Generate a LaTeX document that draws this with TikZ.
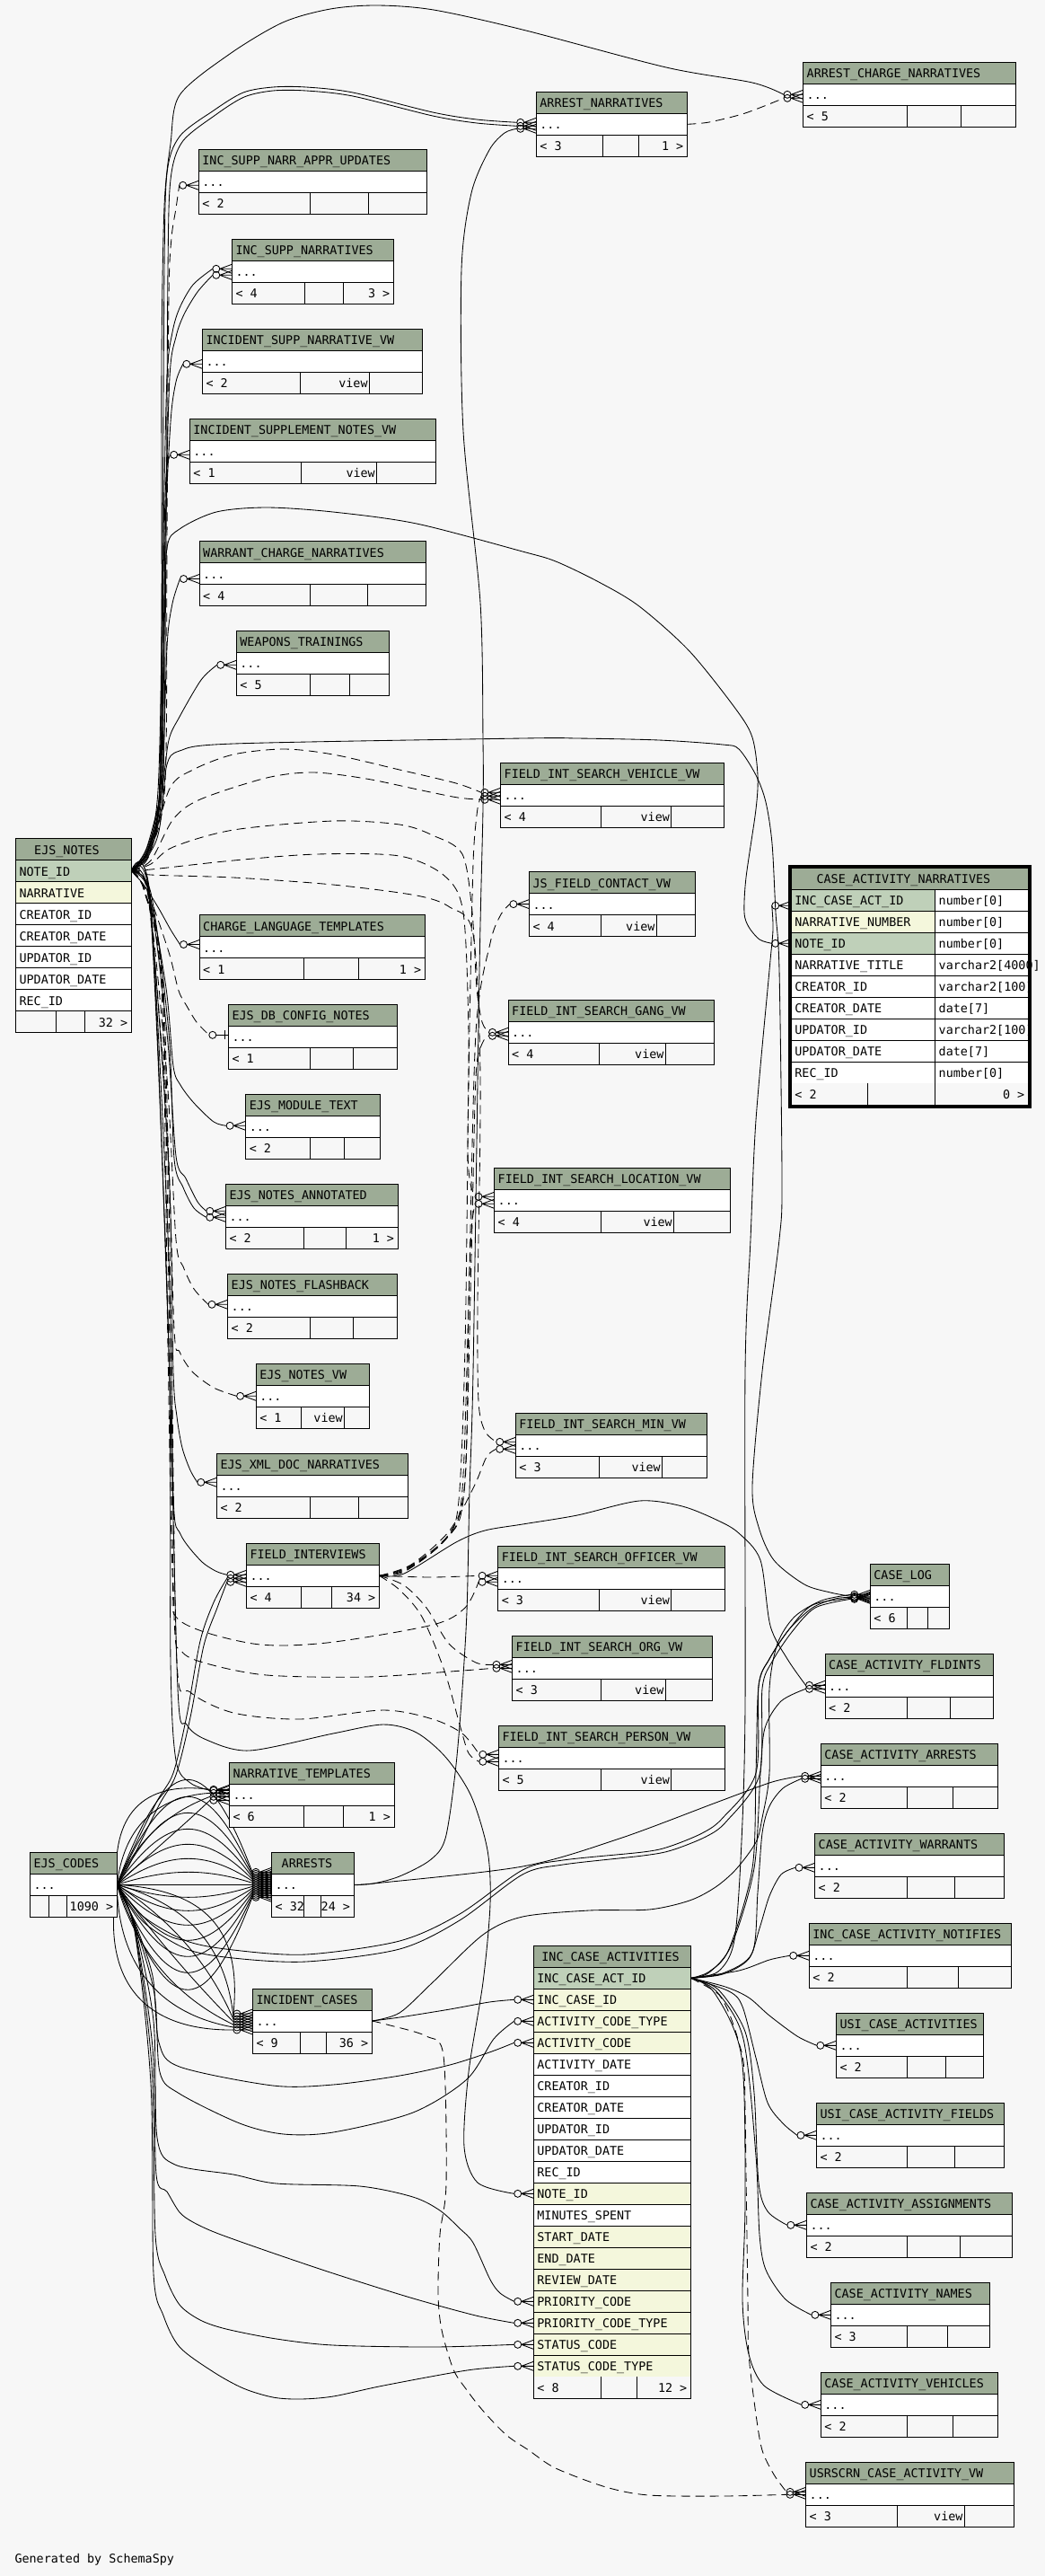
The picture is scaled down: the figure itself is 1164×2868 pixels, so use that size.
\documentclass[tikz,border=0pt]{standalone}
\usepackage{fontspec}
\newfontfamily\monof{DejaVu Sans Mono}
\usetikzlibrary{calc}
\definecolor{bgc}{RGB}{247,247,247}
\definecolor{hdr}{RGB}{157,172,150}
\definecolor{pkc}{RGB}{191,208,185}
\definecolor{fkc}{RGB}{244,247,220}
\pgfdeclarelayer{bgl}
\pgfdeclarelayer{edges}
\pgfsetlayers{bgl,edges,main}
\tikzset{
  bd/.style={draw=black,line width=1pt},
  txt/.style={inner sep=0pt,anchor=base west,font=\monof\fontsize{13.4pt}{15pt}\selectfont},
  txtr/.style={txt,anchor=base east},
  rel/.style={draw=black,line width=0.85pt},
  impl/.style={rel,dash pattern=on 10pt off 6pt},
  rowbox/.style={draw=black,line width=1pt,fill=white,inner sep=0pt,outer sep=0pt,anchor=north west,minimum height=24pt},
}
\newcommand\tbl[5]{%
  \fill[hdr] (#2,#4) rectangle (#3,{#4+24});
  \fill[bgc] (#2,{#4+48}) rectangle (#3,{#4+72});
  \node[rowbox,minimum width={(#3-#2)*1pt}] (#1) at (#2,{#4+24}) {};
  \draw[bd] (#2,#4) rectangle (#3,{#4+72});
  \node[txt] (#1-t) at ({#2+4},{#4+17.5}) {#5};
  \node[txt] at ({#2+4},{#4+41.5}) {...};
  \def\tx{#2}\def\txb{#3}\def\ty{#4}}
\newcommand\ftr[5]{%
  \draw[bd] (#1,{\ty+48}) -- (#1,{\ty+72}) (#2,{\ty+48}) -- (#2,{\ty+72});
  \node[txt] at ({\tx+4},{\ty+65.5}) {#3};
  \node[txtr] at ({#2-1.5},{\ty+65.5}) {#4};
  \node[txtr] at ({\txb-4},{\ty+65.5}) {#5};}
\newcommand\brow[6]{%
  \node[rowbox,fill=#5,minimum width={(#3-#2)*1pt}] (#1) at (#2,#4) {};
  \node[txt] at ({#2+4},{#4+17.5}) {#6};}
\newcommand\crow[2]{%
  \draw[rel] ($(#1.west)+(-17.5,#2)$) circle[radius=4pt];
  \draw[rel] ($(#1.west)+(-13.5,#2)$) -- ($(#1.west)+(0,{#2-5})$)
             ($(#1.west)+(-13.5,#2)$) -- ($(#1.west)+(0,#2)$)
             ($(#1.west)+(-13.5,#2)$) -- ($(#1.west)+(0,{#2+5})$);}
\newcommand\crowone[2]{%
  \draw[rel] ($(#1.west)+(-17.5,#2)$) circle[radius=4pt];
  \draw[rel] ($(#1.west)+(-13.5,#2)$) -- ($(#1.west)+(0,#2)$)
             ($(#1.west)+(-4,{#2-5})$) -- ($(#1.west)+(-4,{#2+5})$);}
\newcommand\edge[5][rel]{%
  \coordinate (ee) at ($(#3.west)+(-21.5,#4)$);
  \draw[#1] plot[smooth,tension=0.5] coordinates {(#2) #5 (ee)};
  \crow{#3}{#4}}
\newcommand\edgeone[5][rel]{%
  \coordinate (ee) at ($(#3.west)+(-21.5,#4)$);
  \draw[#1] plot[smooth,tension=0.5] coordinates {(#2) #5 (ee)};
  \crowone{#3}{#4}}
\begin{document}
\catcode`\_=12
\begin{tikzpicture}[x=1pt,y=-1pt]
\useasboundingbox (0,0) rectangle (1164,2868);
\begin{pgfonlayer}{bgl}
\fill[bgc] (0,0) rectangle (1164,2868);
\end{pgfonlayer}

% ---------- small tables ----------
\tbl{AN}{597.2}{765.4}{102.3}{ARREST_NARRATIVES}\ftr{671}{711.5}{< 3}{}{1 >}
\tbl{ACN}{894.5}{1131.7}{69.3}{ARREST_CHARGE_NARRATIVES}\ftr{1010.4}{1070.5}{< 5}{}{}
\tbl{ISNAU}{221.2}{475.5}{166.3}{INC_SUPP_NARR_APPR_UPDATES}\ftr{345.2}{410.5}{< 2}{}{}
\tbl{ISN}{258.3}{438.4}{266.3}{INC_SUPP_NARRATIVES}\ftr{339.3}{382.3}{< 4}{}{3 >}
\tbl{ISNV}{225.3}{470.3}{366.3}{INCIDENT_SUPP_NARRATIVE_VW}\ftr{334.4}{411.3}{< 2}{view}{}
\tbl{ISTV}{211.2}{485.5}{466.3}{INCIDENT_SUPPLEMENT_NOTES_VW}\ftr{335.2}{419.5}{< 1}{view}{}
\tbl{WCN}{222}{474.4}{602.5}{WARRANT_CHARGE_NARRATIVES}\ftr{345.2}{409.4}{< 4}{}{}
\tbl{WT}{263.2}{433.2}{702.3}{WEAPONS_TRAININGS}\ftr{345.2}{389.4}{< 5}{}{}
\tbl{FV}{557.5}{806.2}{849.3}{FIELD_INT_SEARCH_VEHICLE_VW}\ftr{669.2}{747.6}{< 4}{view}{}
\tbl{JF}{589.4}{774.3}{970.6}{JS_FIELD_CONTACT_VW}\ftr{669.2}{731.2}{< 4}{view}{}
\tbl{CLT}{222}{473.3}{1018.5}{CHARGE_LANGUAGE_TEMPLATES}\ftr{338.2}{399.4}{< 1}{}{1 >}
\tbl{FG}{566}{795.8}{1113.3}{FIELD_INT_SEARCH_GANG_VW}\ftr{667.7}{741.2}{< 4}{view}{}
\tbl{EDB}{254.3}{442.5}{1118.3}{EJS_DB_CONFIG_NOTES}\ftr{345.2}{393.1}{< 1}{}{}
\tbl{EMT}{273.6}{423.2}{1218.3}{EJS_MODULE_TEXT}\ftr{345.2}{383.4}{< 2}{}{}
\tbl{FL}{550.5}{813.3}{1300.3}{FIELD_INT_SEARCH_LOCATION_VW}\ftr{669.6}{750.5}{< 4}{view}{}
\tbl{ENA}{251.3}{443.2}{1318.3}{EJS_NOTES_ANNOTATED}\ftr{338.5}{385.7}{< 2}{}{1 >}
\tbl{ENF}{253.5}{442.5}{1418.3}{EJS_NOTES_FLASHBACK}\ftr{345.2}{393.1}{< 2}{}{}
\tbl{ENV}{285.1}{411.3}{1518.3}{EJS_NOTES_VW}\ftr{335.2}{383.4}{< 1}{view}{}
\tbl{FM}{574.2}{787.3}{1573.3}{FIELD_INT_SEARCH_MIN_VW}\ftr{667.4}{737.5}{< 3}{view}{}
\tbl{EXD}{241.3}{454.3}{1618.3}{EJS_XML_DOC_NARRATIVES}\ftr{345.2}{399.4}{< 2}{}{}
\tbl{FI}{274.3}{422.4}{1718.3}{FIELD_INTERVIEWS}\ftr{335.2}{369.3}{< 4}{}{34 >}
\tbl{FO}{554.6}{807.3}{1721.3}{FIELD_INT_SEARCH_OFFICER_VW}\ftr{667.4}{747.6}{< 3}{view}{}
\tbl{CL}{969.2}{1057.1}{1741.3}{CASE_LOG}\ftr{1010.4}{1033.4}{< 6}{}{}
\tbl{FOR}{570.5}{793.2}{1821.3}{FIELD_INT_SEARCH_ORG_VW}\ftr{669.2}{741.2}{< 3}{view}{}
\tbl{CAF}{919}{1106.1}{1841.3}{CASE_ACTIVITY_FLDINTS}\ftr{1010.4}{1058.2}{< 2}{}{}
\tbl{FP}{555.3}{807.3}{1921.3}{FIELD_INT_SEARCH_PERSON_VW}\ftr{669.2}{747.6}{< 5}{view}{}
\tbl{CAA}{914.2}{1111.3}{1941.3}{CASE_ACTIVITY_ARRESTS}\ftr{1010.4}{1061.6}{< 2}{}{}
\tbl{NT}{255.4}{439.1}{1962.3}{NARRATIVE_TEMPLATES}\ftr{338.2}{382.3}{< 6}{}{1 >}
\tbl{CAW}{907.5}{1118.4}{2041.3}{CASE_ACTIVITY_WARRANTS}\ftr{1010.4}{1063.4}{< 2}{}{}
\tbl{EC}{33.4}{130.3}{2062.3}{EJS_CODES}\ftr{54.6}{74.2}{}{}{1090 >}
\tbl{AR}{302.5}{394.2}{2062.3}{\kern7pt ARRESTS}\ftr{338.9}{357.5}{< 32}{}{24 >}
\tbl{ICAN}{901.2}{1126.2}{2141.3}{INC_CASE_ACTIVITY_NOTIFIES}\ftr{1010.4}{1067.1}{< 2}{}{}
\tbl{IC}{281.4}{414.3}{2214}{INCIDENT_CASES}\ftr{334.4}{363.4}{< 9}{}{36 >}
\tbl{USA}{931.3}{1095.4}{2241.3}{USI_CASE_ACTIVITIES}\ftr{1010.4}{1053.4}{< 2}{}{}
\tbl{USF}{909.4}{1118.4}{2341.3}{USI_CASE_ACTIVITY_FIELDS}\ftr{1010.4}{1063.4}{< 2}{}{}
\tbl{CAS}{898.3}{1127.3}{2441.3}{CASE_ACTIVITY_ASSIGNMENTS}\ftr{1010.4}{1069.4}{< 2}{}{}
\tbl{CANM}{925.4}{1102.4}{2541.3}{CASE_ACTIVITY_NAMES}\ftr{1010.4}{1055.3}{< 3}{}{}
\tbl{CAV}{914.2}{1111.3}{2641.3}{CASE_ACTIVITY_VEHICLES}\ftr{1010.4}{1061.6}{< 2}{}{}
\tbl{USR}{897.5}{1129.5}{2741.3}{USRSCRN_CASE_ACTIVITY_VW}\ftr{999.2}{1074.2}{< 3}{view}{}

% ---------- EJS_NOTES ----------
\fill[hdr] (17.4,933.5) rectangle (146.3,957.5);
\node[txt] (EN-t) at (38,951) {EJS_NOTES};
\brow{EN-pk}{17.4}{146.3}{957.5}{pkc}{NOTE_ID}
\brow{EN2}{17.4}{146.3}{981.5}{fkc}{NARRATIVE}
\brow{EN3}{17.4}{146.3}{1005.5}{white}{CREATOR_ID}
\brow{EN4}{17.4}{146.3}{1029.5}{white}{CREATOR_DATE}
\brow{EN5}{17.4}{146.3}{1053.5}{white}{UPDATOR_ID}
\brow{EN6}{17.4}{146.3}{1077.5}{white}{UPDATOR_DATE}
\brow{EN7}{17.4}{146.3}{1101.5}{white}{REC_ID}
\fill[bgc] (17.4,1125.5) rectangle (146.3,1149.5);
\draw[bd] (17.4,933.5) rectangle (146.3,1149.5);
\draw[bd] (62.4,1125.5) -- (62.4,1149.5) (94.7,1125.5) -- (94.7,1149.5);
\node[txtr] at (142.3,1143) {32 >};

% ---------- CASE_ACTIVITY_NARRATIVES ----------
\fill[hdr] (881.2,966.3) rectangle (1145.5,990.3);
\node[txt] (CAN-t) at (909.4,983.8) {CASE_ACTIVITY_NARRATIVES};
\brow{CAN1}{881.2}{1041.5}{990.3}{pkc}{INC_CASE_ACT_ID}\brow{CANt1}{1041.5}{1145.5}{990.3}{white}{number[0]}
\brow{CAN2}{881.2}{1041.5}{1014.3}{fkc}{NARRATIVE_NUMBER}\brow{CANt2}{1041.5}{1145.5}{1014.3}{white}{number[0]}
\brow{CAN3}{881.2}{1041.5}{1038.3}{pkc}{NOTE_ID}\brow{CANt3}{1041.5}{1145.5}{1038.3}{white}{number[0]}
\brow{CAN4}{881.2}{1041.5}{1062.3}{white}{NARRATIVE_TITLE}\brow{CANt4}{1041.5}{1145.5}{1062.3}{white}{varchar2[4000]}
\brow{CAN5}{881.2}{1041.5}{1086.3}{white}{CREATOR_ID}\brow{CANt5}{1041.5}{1145.5}{1086.3}{white}{varchar2[100]}
\brow{CAN6}{881.2}{1041.5}{1110.3}{white}{CREATOR_DATE}\brow{CANt6}{1041.5}{1145.5}{1110.3}{white}{date[7]}
\brow{CAN7}{881.2}{1041.5}{1134.3}{white}{UPDATOR_ID}\brow{CANt7}{1041.5}{1145.5}{1134.3}{white}{varchar2[100]}
\brow{CAN8}{881.2}{1041.5}{1158.3}{white}{UPDATOR_DATE}\brow{CANt8}{1041.5}{1145.5}{1158.3}{white}{date[7]}
\brow{CAN9}{881.2}{1041.5}{1182.3}{white}{REC_ID}\brow{CANt9}{1041.5}{1145.5}{1182.3}{white}{number[0]}
\fill[bgc] (881.2,1206.3) rectangle (1145.5,1230.3);
\draw[bd] (881.2,966.3) rectangle (1145.5,1230.3);
\draw[bd] (966.6,1206.3) -- (966.6,1230.3) (1041.5,1206.3) -- (1041.5,1230.3);
\node[txt] at (885.2,1223.8) {< 2};
\node[txtr] at (1141.5,1223.8) {0 >};
\draw[line width=3.2pt] (879.6,964.7) rectangle (1147.1,1231.9);

% ---------- INC_CASE_ACTIVITIES ----------
\fill[hdr] (594.2,2166.3) rectangle (769.5,2190.3);
\node[txt] (ICA-t) at (603.2,2183.8) {INC_CASE_ACTIVITIES};
\brow{ICA1}{594.2}{769.5}{2190.3}{pkc}{INC_CASE_ACT_ID}
\brow{ICA2}{594.2}{769.5}{2214.3}{fkc}{INC_CASE_ID}
\brow{ICA3}{594.2}{769.5}{2238.3}{fkc}{ACTIVITY_CODE_TYPE}
\brow{ICA4}{594.2}{769.5}{2262.3}{fkc}{ACTIVITY_CODE}
\brow{ICA5}{594.2}{769.5}{2286.3}{white}{ACTIVITY_DATE}
\brow{ICA6}{594.2}{769.5}{2310.3}{white}{CREATOR_ID}
\brow{ICA7}{594.2}{769.5}{2334.3}{white}{CREATOR_DATE}
\brow{ICA8}{594.2}{769.5}{2358.3}{white}{UPDATOR_ID}
\brow{ICA9}{594.2}{769.5}{2382.3}{white}{UPDATOR_DATE}
\brow{ICA10}{594.2}{769.5}{2406.3}{white}{REC_ID}
\brow{ICA11}{594.2}{769.5}{2430.3}{fkc}{NOTE_ID}
\brow{ICA12}{594.2}{769.5}{2454.3}{white}{MINUTES_SPENT}
\brow{ICA13}{594.2}{769.5}{2478.3}{fkc}{START_DATE}
\brow{ICA14}{594.2}{769.5}{2502.3}{fkc}{END_DATE}
\brow{ICA15}{594.2}{769.5}{2526.3}{fkc}{REVIEW_DATE}
\brow{ICA16}{594.2}{769.5}{2550.3}{fkc}{PRIORITY_CODE}
\brow{ICA17}{594.2}{769.5}{2574.3}{fkc}{PRIORITY_CODE_TYPE}
\brow{ICA18}{594.2}{769.5}{2598.3}{fkc}{STATUS_CODE}
\brow{ICA19}{594.2}{769.5}{2622.3}{fkc}{STATUS_CODE_TYPE}
\fill[bgc] (594.2,2646.3) rectangle (769.5,2670.3);
\draw[bd] (594.2,2166.3) rectangle (769.5,2670.3);
\draw[bd] (669.2,2646.3) -- (669.2,2670.3) (709.3,2646.3) -- (709.3,2670.3);
\node[txt] at (598.2,2663.8) {< 8};
\node[txtr] at (765.5,2663.8) {12 >};

\node[txt] (gen) at (16.3,2853) {Generated by SchemaSpy};

% ---------- relationships ----------
\begin{pgfonlayer}{edges}
% EJS_NOTES upward
\edge{EN-pk.east}{ACN}{0}{(165,945) (176,880) (180,700) (180,400) (183,230) (190,160) (200,106) (256,60) (315,25) (368,10) (420,6) (483,11) (582,33) (742,75) (838,92)}
\edge{EN-pk.east}{AN}{-2}{(163,950) (177,890) (181,600) (183,300) (186,193) (200,152) (238,123) (271,103) (304,97) (341,97) (393,103) (482,125) (531,133)}
\edge{EN-pk.east}{AN}{2}{(166,952) (181,890) (185,600) (187,300) (190,200) (203,158) (240,128) (272,108) (304,101) (341,101) (393,107) (482,129) (531,137)}
\edge[impl]{EN-pk.east}{ISNAU}{4}{(168,945) (184,870) (186,600) (188,330) (191,265) (196,232)}
\edge{EN-pk.east}{ISN}{-3}{(164,948) (178,880) (182,600) (186,420) (192,370) (200,343) (215,317)}
\edge{EN-pk.east}{ISN}{4}{(166,950) (180,880) (184,600) (189,420) (196,375) (205,350) (220,325)}
\edge{EN-pk.east}{ISNV}{3}{(165,948) (179,880) (184,600) (190,470) (196,425)}
\edge{EN-pk.east}{ISTV}{4}{(164,947) (178,880) (182,640) (185,530)}
\edge{EN-pk.east}{WCN}{6}{(165,946) (180,880) (186,720) (192,672)}
\edge{EN-pk.east}{WT}{2}{(163,945) (180,880) (188,824) (200,798) (224,757)}
\edge{EN-pk.east}{CAN3}{0}{(164,944) (178,880) (183,700) (186,610) (200,589) (241,570) (297,565) (371,570) (464,583) (582,614) (619,625) (667,648) (712,675) (768,725) (820,790) (838,821) (844,863) (842,901) (831,977) (829,1016) (834,1032) (846,1046)}
\edge{EN-pk.east}{CL}{0}{(165,950) (180,900) (186,851) (200,836) (260,828) (582,822) (643,822) (734,824) (805,829) (823,834) (842,863) (853,893) (860,939) (864,1016) (868,1080) (871,1313) (868,1380) (849,1527) (838,1654) (845,1700) (862,1737) (896,1764) (925,1773)}
% EJS_NOTES to views (implied)
\edge[impl]{EN-pk.east}{FV}{-3}{(165,955) (189,878) (215,857) (260,840) (316,834) (371,840) (445,857) (508,872)}
\edge[impl]{EN-pk.east}{FV}{5}{(168,958) (193,912) (223,890) (297,866) (349,860) (408,867) (470,880) (510,888)}
\edge[impl]{EN-pk.east}{FG}{0}{(168,962) (193,943) (260,924) (371,914) (445,918) (482,930) (515,951) (526,1016) (531,1100) (537,1138)}
\edge[impl]{EN-pk.east}{FL}{-4}{(168,968) (260,958) (353,951) (445,953) (495,975) (516,1016) (522,1150) (521,1280) (524,1318)}
\edge[impl]{EN-pk.east}{FM}{-4}{(168,974) (260,977) (371,985) (464,997) (501,1010) (527,1040) (535,1200) (532,1450) (533,1560) (540,1593)}
\edge[impl]{EN-pk.east}{FO}{4}{(160,990) (180,1100) (187,1500) (192,1750) (200,1804) (282,1830) (364,1829) (482,1809) (518,1790)}
\edge[impl]{EN-pk.east}{FOR}{0}{(161,992) (181,1100) (189,1500) (194,1800) (202,1838) (230,1852) (297,1865) (408,1867) (515,1860)}
\edge[impl]{EN-pk.east}{FP}{-4}{(162,994) (182,1100) (191,1500) (197,1850) (212,1884) (260,1907) (334,1914) (427,1904) (482,1914) (515,1930)}
% EJS_NOTES downward
\edge{EN-pk.east}{CLT}{-3}{(160,985) (176,1010) (190,1035)}
\edgeone[impl]{EN-pk.east}{EDB}{-2}{(165,995) (188,1060) (199,1103) (208,1120) (219,1138)}
\edge{EN-pk.east}{EMT}{-1}{(165,990) (185,1100) (193,1187) (201,1208) (216,1228) (238,1249)}
\edge{EN-pk.east}{ENA}{-6}{(166,992) (186,1150) (196,1287) (207,1312) (220,1338)}
\edge{EN-pk.east}{ENA}{1}{(168,994) (188,1150) (194,1290) (204,1322) (216,1345)}
\edge[impl]{EN-pk.east}{ENF}{-2}{(165,995) (186,1200) (196,1380) (204,1410) (216,1435)}
\edge[impl]{EN-pk.east}{ENV}{0}{(165,998) (186,1250) (194,1480) (200,1505) (214,1527) (238,1545)}
\edge{EN-pk.east}{EXD}{-4}{(166,1000) (188,1300) (193,1527) (197,1577) (203,1612) (212,1637)}
\edge{EN-pk.east}{FI}{-1}{(167,1002) (188,1400) (193,1667) (201,1708) (223,1737) (240,1749)}
\edge{EN-pk.east}{NT}{-5}{(167,1004) (188,1500) (190,1850) (196,1960) (212,1985)}
\edge{EN-pk.east}{ICA11}{0}{(168,1006) (188,1500) (198,1880) (208,1920) (230,1937) (278,1949) (371,1930) (427,1920) (464,1929) (497,1957) (525,2000) (543,2060) (546,2120) (538,2207) (522,2307) (517,2390) (532,2430)}
% EJS_CODES fans
\foreach \b/\d in {-110/-14,-92/-12,-75/-10,-58/-8,-42/-6,-27/-4,-13/-2,0/0,13/2,27/4,42/6,58/8,75/10,92/12,110/14}{
  \draw[rel] (EC.east) .. controls ($(EC.east)+(55,{1.33*\b})$) and ($(AR.west)+(-76.5,{\d+1.33*\b})$) .. ($(AR.west)+(-21.5,\d)$);
  \crow{AR}{\d}
}
\foreach \p/\d in {-80/10,-55/7,-30/4,-5/1,20/-2,45/-5,70/-8}{
  \draw[rel] (EC.east) .. controls ($(EC.east)+({43+0.76*\p},{51-0.65*\p})$) and ($(IC.west)+({-64.5+0.76*\p},{\d-51-0.65*\p})$) .. ($(IC.west)+(-21.5,\d)$);
  \crow{IC}{\d}
}
\foreach \p/\d in {-60/-6,-40/-2,-20/2,0/6}{
  \draw[rel] (EC.east) .. controls ($(EC.east)+({35+0.69*\p},{-33+0.72*\p})$) and ($(NT.west)+({-56.5+0.69*\p},{\d+33+0.72*\p})$) .. ($(NT.west)+(-21.5,\d)$);
  \crow{NT}{\d}
}
\edge{EC.east}{FI}{3}{(141,2074) (174,2007) (193,1974) (208,1910) (223,1827) (238,1784)}
\edge{EC.east}{FI}{7}{(143,2078) (177,2010) (196,1976) (212,1912) (227,1832) (242,1790)}
\edge{EC.east}{ICA4}{0}{(150,2140) (170,2200) (177,2274) (200,2301) (304,2322) (371,2321) (445,2311) (501,2299) (545,2285)}
\edge{EC.east}{ICA3}{0}{(150,2142) (172,2220) (178,2307) (200,2331) (267,2364) (316,2376) (371,2374) (460,2352) (520,2315) (550,2270)}
\edge{EC.east}{ICA16}{0}{(150,2144) (171,2250) (175,2380) (195,2410) (260,2421) (308,2431) (401,2434) (460,2446) (490,2461) (512,2481) (527,2497) (546,2538) (557,2553)}
\edge{EC.east}{ICA17}{0}{(150,2146) (170,2280) (174,2421) (186,2440) (200,2463) (215,2474) (241,2486) (297,2506) (371,2531) (457,2558) (530,2578)}
\edge{EC.east}{ICA18}{0}{(150,2148) (169,2300) (173,2488) (184,2534) (200,2566) (223,2583) (252,2593) (308,2604) (371,2611) (482,2613)}
\edge{EC.east}{ICA19}{0}{(150,2150) (168,2320) (171,2531) (182,2578) (200,2613) (238,2641) (271,2659) (304,2669) (334,2671) (371,2668) (427,2656) (520,2639)}
\edge{EC.east}{CL}{2}{(160,2134) (208,2161) (260,2171) (341,2176) (445,2161) (512,2131) (582,2082) (627,2071) (716,2062) (745,2056) (782,2041) (805,2024) (842,1974) (845,1877) (857,1847) (879,1814) (905,1787)}
\edge{EC.east}{CL}{3}{(160,2140) (208,2170) (260,2180) (341,2184) (445,2170) (512,2138) (582,2087) (627,2076) (716,2066) (748,2060) (786,2045) (809,2028) (846,1976) (849,1880) (860,1850) (882,1817) (908,1790)}
% ARRESTS
\edge{AR.east}{AN}{5}{(416,2097) (445,2089) (479,2071) (496,2047) (507,1974) (514,1894) (520,1794) (523,1660) (527,1527) (534,1080) (538,900) (538,824) (535,671) (516,480) (514,300) (525,215) (545,167) (562,148)}
\edge{AR.east}{CAA}{0}{(416,2097) (582,2078) (690,2047) (800,2006) (860,1984)}
% INCIDENT_CASES
\edge{IC.east}{ICA2}{0}{(445,2246) (501,2237) (545,2229)}
\edge[impl]{IC.east}{USR}{0}{(431,2254) (475,2267) (494,2289) (497,2431) (490,2488) (488,2554) (492,2594) (505,2638) (520,2661) (538,2684) (564,2711) (589,2728) (619,2748) (675,2769) (723,2778) (805,2779)}
\edge{IC.east}{CL}{-2}{(445,2241) (482,2207) (538,2154) (582,2134) (656,2127) (723,2126) (768,2116) (797,2101) (820,2081) (842,2051) (849,2024) (857,1974) (857,1880) (866,1830) (885,1800) (915,1782)}
% FIELD_INTERVIEWS
\edge{FI.east}{CAF}{-1}{(450,1752) (508,1717) (540,1704) (582,1697) (643,1687) (712,1671) (760,1677) (800,1693) (823,1707) (847,1737) (858,1810) (877,1847)}
\edge[impl]{FI.east}{FO}{-3}{(480,1756)}
\edge[impl]{FI.east}{FV}{1}{(450,1750) (490,1720) (510,1680) (518,1500) (522,1200) (526,1000) (528,940) (532,900)}
\edge[impl]{FI.east}{JF}{0}{(452,1748) (494,1716) (514,1670) (522,1450) (530,1150) (546,1050) (558,1018)}
\edge[impl]{FI.east}{FG}{4}{(454,1746) (498,1712) (517,1660) (525,1400) (530,1200) (537,1162)}
\edge[impl]{FI.east}{FL}{4}{(456,1744) (500,1708) (518,1650) (522,1450) (525,1370)}
\edge[impl]{FI.east}{FM}{4}{(458,1742) (500,1705) (528,1655) (542,1622)}
\edge[impl]{FI.east}{FOR}{-4}{(450,1765) (475,1790) (500,1830) (530,1851)}
\edge[impl]{FI.east}{FP}{4}{(445,1770) (470,1800) (495,1860) (512,1920) (522,1952)}
% INC_CASE_ACTIVITIES
\edge{ICA1.east}{CAN1}{6}{(800,2195) (818,2160) (826,2050) (830,1900) (830,1527) (836,1380) (842,1247) (857,1080) (861,1035)}
\edge{ICA1.east}{CL}{1}{(790,2195) (812,2170) (838,2080) (842,1974) (845,1877) (857,1847) (879,1814) (905,1790) (930,1780)}
\edge{ICA1.east}{CAF}{3}{(790,2196) (815,2165) (840,2080) (847,1974) (852,1924) (870,1894)}
\edge{ICA1.east}{CAA}{3}{(805,2197) (838,2174) (844,2107) (849,2041) (857,2011) (872,1991)}
\edge{ICA1.east}{CAW}{2}{(805,2198) (834,2181) (846,2147) (857,2111) (870,2087)}
\edge{ICA1.east}{ICAN}{0}{(823,2194) (857,2182)}
\edge{ICA1.east}{USA}{0}{(808,2212) (834,2224) (857,2244) (888,2267)}
\edge{ICA1.east}{USF}{0}{(812,2217) (827,2234) (842,2291) (855,2341) (872,2364)}
\edge{ICA1.east}{CAS}{0}{(800,2215) (830,2262) (840,2330) (845,2430) (855,2462)}
\edge{ICA1.east}{CANM}{0}{(798,2217) (828,2270) (842,2400) (846,2488) (853,2527) (875,2560)}
\edge{ICA1.east}{CAV}{0}{(796,2219) (826,2290) (830,2450) (827,2561) (834,2621) (851,2656)}
\edge[impl]{ICA1.east}{USR}{-3}{(786,2211) (801,2221) (812,2241) (823,2274) (829,2307) (831,2421) (833,2561) (834,2621) (842,2688) (849,2728) (862,2755)}
% ARREST_NARRATIVES to ARREST_CHARGE_NARRATIVES
\edge[impl]{AN.east}{ACN}{4}{(790,136) (830,126)}
\end{pgfonlayer}
\end{tikzpicture}
\end{document}
